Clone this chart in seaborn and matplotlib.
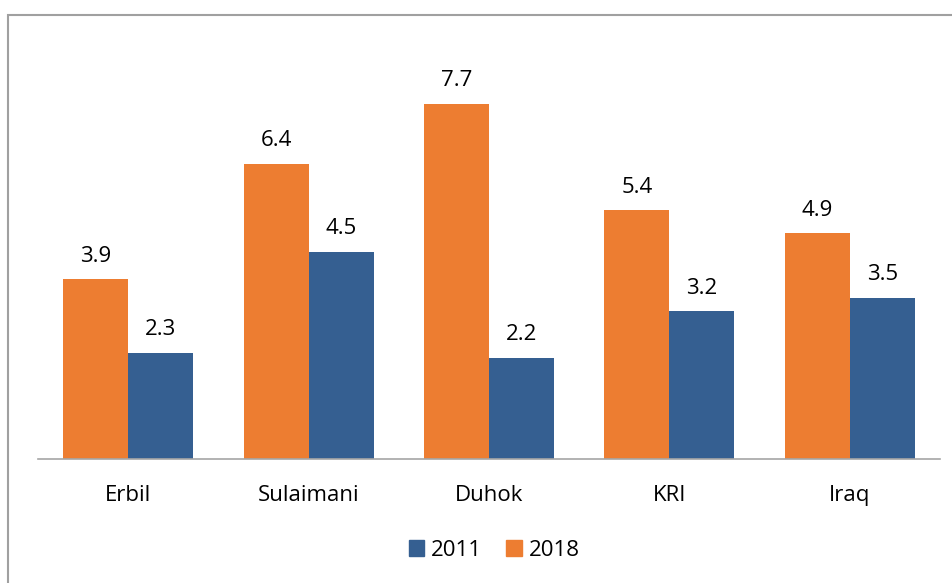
import matplotlib
matplotlib.use("Agg")
import matplotlib.pyplot as plt
import matplotlib.patches as mpatches
import seaborn as sns
import pandas as pd

# dati
regioni = ["Erbil", "Sulaimani", "Duhok", "KRI", "Iraq"]
valori_2011 = [2.3, 4.5, 2.2, 3.2, 3.5]
valori_2018 = [3.9, 6.4, 7.7, 5.4, 4.9]
anni = ["2018", "2011"]
colori = {"2011": "#355F91", "2018": "#ED7D31"}

df = pd.DataFrame({
    "regione": regioni * 2,
    "anno": ["2018"] * len(regioni) + ["2011"] * len(regioni),
    "valore": valori_2018 + valori_2011,
})

sns.set_style("white")
plt.rcParams["font.family"] = ["Open Sans", "DejaVu Sans"]
plt.rcParams["text.color"] = "black"

fig = plt.figure(figsize=(9.53, 5.83), dpi=100)
ax = fig.add_axes([0.0399, 0.2127, 0.9465, 0.7118])

sns.barplot(data=df, x="regione", y="valore", hue="anno", hue_order=anni,
            palette=colori, width=0.72, saturation=1, linewidth=0,
            ax=ax, legend=False)

for cont in ax.containers:
    ax.bar_label(cont, fmt="%.1f", padding=9, fontsize=16, color="black")

ax.set_ylim(0, 9)
ax.set_xlim(-0.5, 4.5)
ax.set_xlabel("")
ax.set_ylabel("")
ax.set_yticks([])
ax.tick_params(axis="x", length=0, labelsize=16, pad=19, labelcolor="black")
for s in ["top", "right", "left"]:
    ax.spines[s].set_visible(False)
ax.spines["bottom"].set_color("#A6A6A6")
ax.spines["bottom"].set_linewidth(1.2)

# bordo dell'area del grafico
bordo = mpatches.Rectangle((8 / 953, -0.1), 1.2, 1 - 15 / 583 + 0.1, transform=fig.transFigure,
                           fill=False, edgecolor="#A0A0A0", linewidth=1.5, clip_on=False)
fig.patches.append(bordo)

maniglie = [mpatches.Patch(color=colori["2011"], label="2011"),
            mpatches.Patch(color=colori["2018"], label="2018")]
fig.legend(handles=maniglie, loc="center", bbox_to_anchor=(494 / 953, 1 - 550 / 583), ncol=2,
           frameon=False, fontsize=16, handlelength=0.7, handleheight=0.7,
           handletextpad=0.3, columnspacing=1.1)

fig.savefig("out.png", dpi=100)
